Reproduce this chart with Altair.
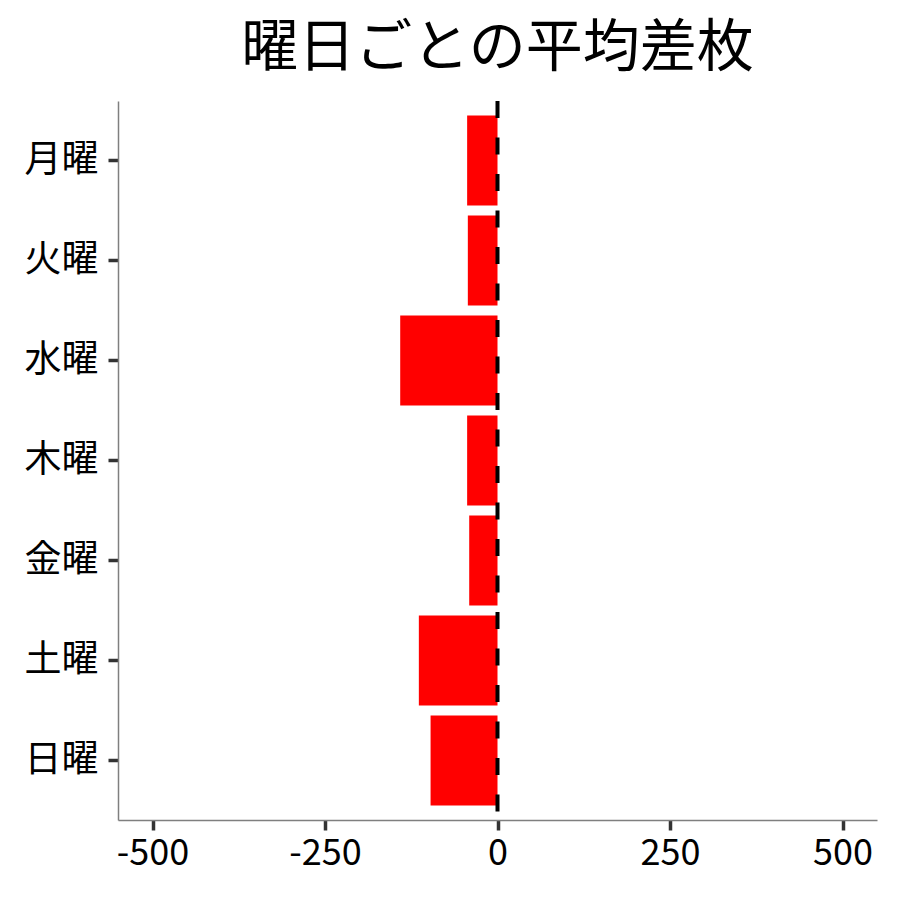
import altair as alt
import pandas as pd

days = ["月曜", "火曜", "水曜", "木曜", "金曜", "土曜", "日曜"]
avg_diff = [-44, -43, -141, -44, -41, -114, -97]

df = pd.DataFrame({"day": days, "diff": avg_diff})
zero = pd.DataFrame({"x": [0]})

FONT = "Noto Sans CJK JP"

x_scale = alt.Scale(domain=[-550, 550], nice=False, zero=False)

bars = alt.Chart(df).mark_bar(color="#ff0000").encode(
    x=alt.X("diff:Q", scale=x_scale,
            axis=alt.Axis(values=[-500, -250, 0, 250, 500], title=None, grid=False,
                          labelFontSize=36, labelFont=FONT, labelColor="#000000",
                          labelPadding=6, tickSize=10, tickWidth=3.5, tickColor="#333333",
                          domainColor="#7f7f7f", domainWidth=1.5,
                          labelExpr="datum.value")),
    y=alt.Y("day:N", sort=days,
            scale=alt.Scale(paddingInner=0.1, paddingOuter=0.145),
            axis=alt.Axis(title=None, grid=False, labelFontSize=37, labelFont=FONT,
                          labelColor="#000000", labelPadding=10, tickSize=10, tickWidth=3.5,
                          tickColor="#333333", domainColor="#7f7f7f", domainWidth=1.5)),
)

rule = alt.Chart(zero).mark_rule(color="#000000", strokeWidth=4, strokeDash=[17, 19.5]).encode(
    x=alt.X("x:Q", scale=x_scale)
)

chart = alt.layer(bars, rule).properties(
    width=759,
    height=719,
    background="white",
    title=alt.TitleParams("曜日ごとの平均差枚", font=FONT, fontSize=57, fontWeight="normal",
                          color="#000000", anchor="middle", offset=21),
    autosize=alt.AutoSizeParams(type="none"),
    padding={"left": 110, "top": 93, "right": 15, "bottom": 70},
).configure_view(strokeWidth=0, stroke="transparent")

chart.save("out.html", embed_options={"renderer": "svg", "actions": False})
